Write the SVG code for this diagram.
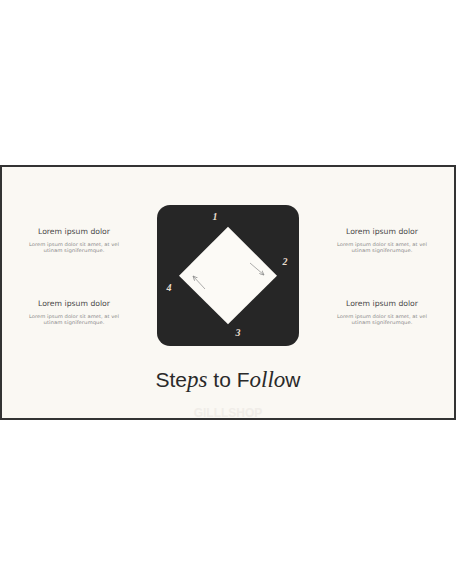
<svg xmlns="http://www.w3.org/2000/svg" width="456" height="586" viewBox="0 0 456 586">
<style>
.h{font-family:"DejaVu Sans","Liberation Sans",sans-serif;font-size:7.6px;fill:#4a4a4a;text-anchor:middle}
.b{font-family:"DejaVu Sans","Liberation Sans",sans-serif;font-size:4.8px;fill:#8a8a8a;text-anchor:middle}
.n{font-family:"Liberation Serif","Times New Roman",serif;font-size:10px;font-style:italic;font-weight:bold;fill:#e9dfcf;text-anchor:middle}
.t{font-family:"Liberation Sans",Arial,sans-serif;font-size:21px;fill:#2a2a2a}
.ti{font-family:"Liberation Serif","Times New Roman",serif;font-style:italic;font-size:23px}
</style>
<defs>
<marker id="ah" viewBox="0 0 6 6" refX="5.5" refY="3" markerWidth="5" markerHeight="5" markerUnits="userSpaceOnUse" orient="auto">
<path d="M0,0.5 L5.5,3 L0,5.5" fill="none" stroke="#8a8a8a" stroke-width="0.9"/>
</marker>
</defs>
<rect width="456" height="586" fill="#ffffff"/>
<rect x="1" y="166" width="454" height="253" fill="#faf8f3" stroke="#333333" stroke-width="2"/>
<g id="center">
<rect x="157" y="205" width="142" height="141" rx="13" fill="#262626"/>
<polygon points="228,226.7 277,275.7 228,324.3 179,275.7" fill="#fcfaf6"/>
<text class="n" x="215" y="220">1</text>
<text class="n" x="285" y="265">2</text>
<text class="n" x="238" y="336">3</text>
<text class="n" x="169" y="291">4</text>
</g>
<g id="connectors">
<line x1="250" y1="263" x2="264" y2="275" stroke="#8a8a8a" stroke-width="0.7" marker-end="url(#ah)"/>
<line x1="205" y1="289" x2="193" y2="276" stroke="#8a8a8a" stroke-width="0.7" marker-end="url(#ah)"/>
</g>
<g id="item1">
<text class="h" x="74" y="234" textLength="72" lengthAdjust="spacingAndGlyphs">Lorem ipsum dolor</text>
<text class="b" x="74" y="245.5" textLength="90" lengthAdjust="spacingAndGlyphs">Lorem ipsum dolor sit amet, at vel</text>
<text class="b" x="74" y="252" textLength="61" lengthAdjust="spacingAndGlyphs">utinam signiferumque.</text>
</g>
<g id="item2">
<text class="h" x="74" y="305.5" textLength="72" lengthAdjust="spacingAndGlyphs">Lorem ipsum dolor</text>
<text class="b" x="74" y="317.5" textLength="90" lengthAdjust="spacingAndGlyphs">Lorem ipsum dolor sit amet, at vel</text>
<text class="b" x="74" y="324" textLength="61" lengthAdjust="spacingAndGlyphs">utinam signiferumque.</text>
</g>
<g id="item3">
<text class="h" x="382" y="234" textLength="72" lengthAdjust="spacingAndGlyphs">Lorem ipsum dolor</text>
<text class="b" x="382" y="245.5" textLength="90" lengthAdjust="spacingAndGlyphs">Lorem ipsum dolor sit amet, at vel</text>
<text class="b" x="382" y="252" textLength="61" lengthAdjust="spacingAndGlyphs">utinam signiferumque.</text>
</g>
<g id="item4">
<text class="h" x="382" y="305.5" textLength="72" lengthAdjust="spacingAndGlyphs">Lorem ipsum dolor</text>
<text class="b" x="382" y="317.5" textLength="90" lengthAdjust="spacingAndGlyphs">Lorem ipsum dolor sit amet, at vel</text>
<text class="b" x="382" y="324" textLength="61" lengthAdjust="spacingAndGlyphs">utinam signiferumque.</text>
</g>
<g id="title">
<text class="t" x="228" y="386.5" text-anchor="middle">Ste<tspan class="ti">ps</tspan> to F<tspan class="ti">ollo</tspan>w</text>
</g>
<text x="228" y="417" text-anchor="middle" font-family="Liberation Sans,Arial,sans-serif" font-weight="bold" font-size="12" fill="#f0ede8">GILLLSHOP</text>
</svg>
